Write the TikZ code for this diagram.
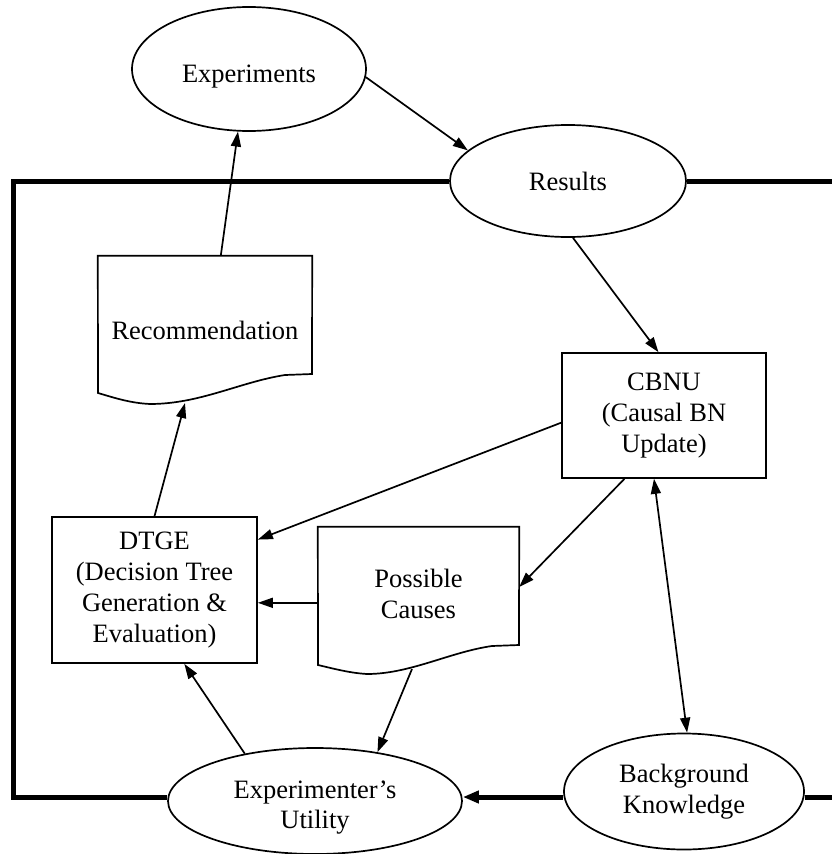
\documentclass[tikz,border=0pt]{standalone}
\usepackage{fontspec}
\setmainfont{Liberation Serif}
\usetikzlibrary{arrows.meta,shapes.geometric}
\begin{document}
\begin{tikzpicture}[x=1pt,y=-1pt,
  every node/.style={font=\fontsize{26.5}{31}\selectfont, align=center, inner sep=0pt},
  ell/.style={ellipse, draw, line width=1.7pt},
  boxn/.style={rectangle, draw, line width=1.7pt},
  docn/.style={rectangle},
  docline/.style={line width=1.7pt, line join=miter},
  conn/.style={line width=1.7pt, -{Triangle[length=15pt,width=10pt]}},
  dconn/.style={line width=1.7pt, {Triangle[length=15pt,width=10pt]}-{Triangle[length=15pt,width=10pt]}},
  frame/.style={line width=5pt, line join=miter},
  framearrow/.style={line width=5pt, -{Triangle[length=16pt,width=12pt]}},
]
\useasboundingbox (0,0) rectangle (832,854);

% nodes
\node[ell, minimum width=234pt, minimum height=124pt] (exp) at (249,69) {};
\node (exptext) at ([yshift=-8pt]exp.center) {Experiments};
\node[ell, minimum width=236pt, minimum height=112pt] (res) at (568,181) {Results};
\node[docn, minimum width=214pt, minimum height=148pt] (rec) at (205,330) {Recommendation};
\node[boxn, minimum width=204pt, minimum height=125pt] (cbnu) at (664,415.5) {CBNU\\(Causal BN\\Update)};
\node[boxn, minimum width=205pt, minimum height=146pt] (dtge) at (154.5,590) {DTGE\\(Decision Tree\\Generation \&\\Evaluation)};
\node[docn, minimum width=201pt, minimum height=134pt] (pc) at (418.5,594) {Possible\\Causes};
\node[ell, minimum width=294pt, minimum height=106pt] (ut) at (315,801) {};
\node[font=\fontsize{26.5}{30}\selectfont] (uttext) at ([yshift=-7pt]ut.center) {Experimenter’s\\Utility};
\node[ell, minimum width=240pt, minimum height=116pt] (bk) at (684,791.5) {Background\\Knowledge};

% document outlines
\draw[docline] (rec.north west) -- (rec.north east) -- (312,374) -- (285,375)
  .. controls (240,382) and (200,404) .. (150,404)
  .. controls (130,403) and (115,398) .. (98,393) -- cycle;
\draw[docline] (pc.north west) -- (pc.north east) -- (519,645) -- (492,646)
  .. controls (450,652) and (410,674) .. (367,674)
  .. controls (350,673) and (335,669) .. (318,665) -- cycle;

\coordinate (recb) at (185,403);
\coordinate (pcb) at (412,669);

% frame
\coordinate (tl) at (13,181);
\coordinate (bl) at (13,797);
\coordinate (rt) at (840,181);
\coordinate (rb) at (840,797);
\draw[frame] (res.west) -- (tl) -- (bl) -- (ut.west |- bl);
\draw[frame] (res.east) -- (rt);
\draw[framearrow] (bk.west |- bl) -- (ut.east |- bl);
\draw[frame] (bk.east |- bl) -- (rb);

% connectors
\draw[conn] (exp.-4) -- (res.163);
\draw[conn] (rec.78.5) -- (exp.-100);
\draw[conn] (dtge.north) -- (recb);
\draw[conn] (res.-85) -- (cbnu.95);
\draw[conn] (cbnu.-176.4) -- (dtge.26);
\draw[conn] (cbnu.-122.6) -- (pc.4);
\draw[conn] (pc.185.7) -- (dtge.east |- pc.185.7);
\draw[conn] (pcb) -- (ut.38.7);
\draw[conn] (ut.146) -- (dtge.-68);
\draw[dconn] (cbnu.-99) -- (bk.87);
\end{tikzpicture}
\end{document}
